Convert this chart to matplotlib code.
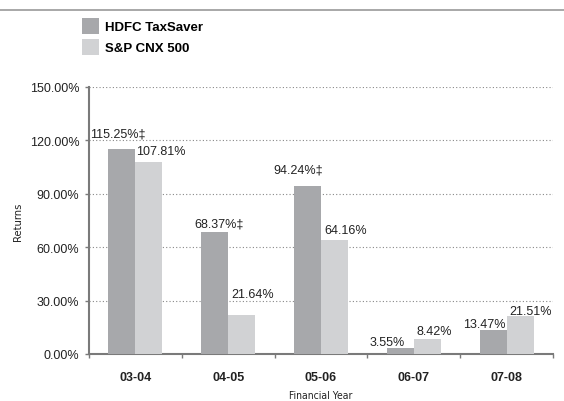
import matplotlib
matplotlib.use('Agg')
import matplotlib.pyplot as plt
from matplotlib.lines import Line2D
import numpy as np

# dados
anos = ['03-04', '04-05', '05-06', '06-07', '07-08']
hdfc = [115.25, 68.37, 94.24, 3.55, 13.47]
cnx500 = [107.81, 21.64, 64.16, 8.42, 21.51]
hdfc_txt = ['115.25%‡', '68.37%‡', '94.24%‡', '3.55%', '13.47%']
cnx_txt = ['107.81%', '21.64%', '64.16%', '8.42%', '21.51%']
yticks = [0, 30, 60, 90, 120, 150]
ytick_txt = ['0.00%', '30.00%', '60.00%', '90.00%', '120.00%', '150.00%']

cor_hdfc = '#a7a8ab'
cor_cnx = '#d1d2d4'
cor_eixo = '#7a7a7a'
fonte = ['Liberation Sans', 'DejaVu Sans']
estreita = ['Liberation Sans Narrow', 'DejaVu Sans']

fig = plt.figure(figsize=(5.64, 4.02), dpi=100)
ax = fig.add_axes([89/564, 47/402, 464/564, 267/402])

x = np.arange(len(anos))
w = 0.29
b1 = ax.bar(x - w/2, hdfc, w, color=cor_hdfc, label='HDFC TaxSaver', zorder=3)
b2 = ax.bar(x + w/2, cnx500, w, color=cor_cnx, label='S&P CNX 500', zorder=3)

# rótulos (deslocamento em pixels, posicionados à mão)
off_hdfc = [(-4, 15), (4.5, 9.3), (-9.5, 17), (-13.5, 5.7), (-9, 6)]
off_cnx = [(11.5, 11), (11, 21.5), (11.5, 10), (6.5, 8), (10.5, 4.7)]
for i in range(len(anos)):
    ax.annotate(hdfc_txt[i], (x[i] - w/2, hdfc[i]), xytext=off_hdfc[i],
                textcoords='offset pixels', ha='center', va='center',
                fontsize=9, family=fonte, color='#222222')
    ax.annotate(cnx_txt[i], (x[i] + w/2, cnx500[i]), xytext=off_cnx[i],
                textcoords='offset pixels', ha='center', va='center',
                fontsize=9, family=fonte, color='#222222')

ax.set_xlim(-0.5, len(anos) - 0.5)
ax.set_ylim(0, 150)
ax.set_yticks(yticks)
ax.set_yticklabels(ytick_txt, family=fonte, fontsize=9, color='#222222')
ax.set_xticks(x)
ax.set_xticklabels(anos, family=fonte, fontsize=9, fontweight='bold', color='#222222')
ax.set_xticks(np.arange(len(anos) + 1) - 0.5, minor=True)
ax.tick_params(axis='x', which='major', length=0, pad=12)
ax.tick_params(axis='x', which='minor', length=3, width=1, color=cor_eixo, direction='out')
ax.tick_params(axis='y', length=3, width=1, color=cor_eixo, pad=4)

ax.grid(axis='y', linestyle=(0, (1, 2)), color='#888888', linewidth=0.8, zorder=0)
for s in ['top', 'right']:
    ax.spines[s].set_visible(False)
for s in ['left', 'bottom']:
    ax.spines[s].set_color(cor_eixo)
    ax.spines[s].set_linewidth(1.5)

ax.set_ylabel('Returns', family=estreita, stretch='condensed', fontsize=8,
              color='#222222', labelpad=5)
ax.set_xlabel('Financial Year', family=estreita, stretch='condensed', fontsize=7.5,
              color='#222222', labelpad=5)

fig.legend(handles=[b1, b2], loc='upper left', bbox_to_anchor=(82/564, 1 - 19/402),
           frameon=False, prop={'family': fonte, 'weight': 'bold', 'size': 9.5},
           handlelength=1.3, handleheight=1.45, handletextpad=0.45,
           labelspacing=0.42, borderpad=0, borderaxespad=0)

fig.add_artist(Line2D([0, 1], [1 - 11/402, 1 - 11/402], transform=fig.transFigure,
                      color='#999999', linewidth=1.2))

fig.savefig('out.png', dpi=100)
